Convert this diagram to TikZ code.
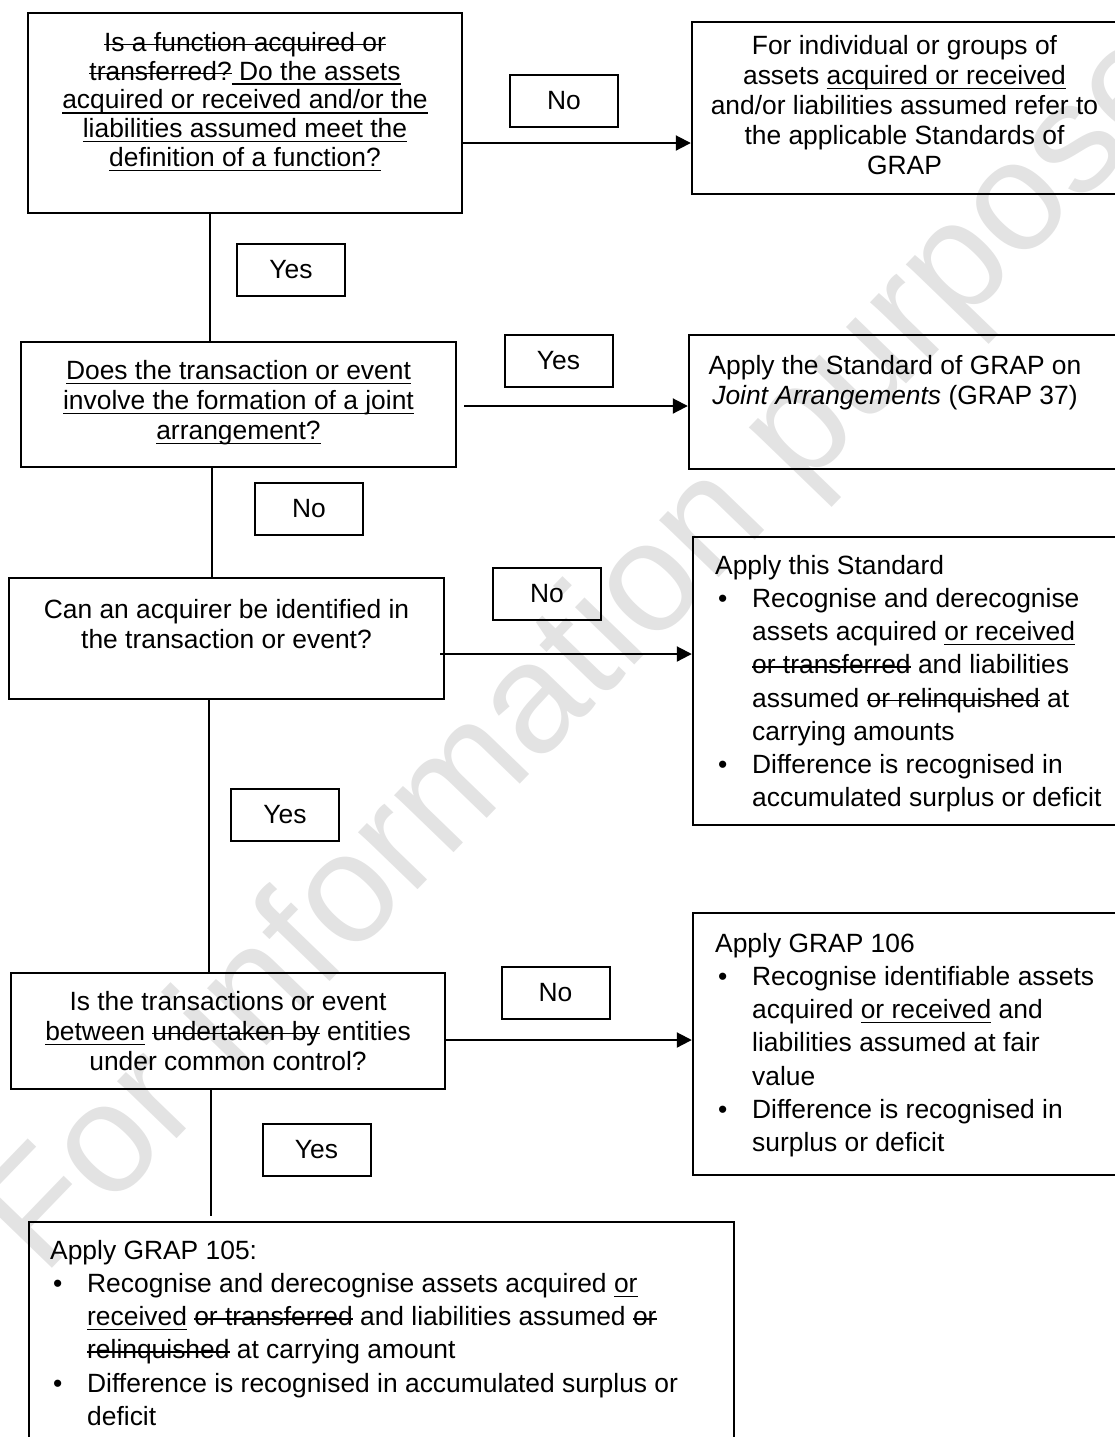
\documentclass[tikz,border=0pt]{standalone}
\usepackage{fontspec}
\setmainfont{Liberation Sans}
\usepackage{tikz}
\usetikzlibrary{positioning,arrows.meta,calc}
\newsavebox{\markBox}
\tikzset{QuestionBox/.style={%
    shape=rectangle,%
    draw=black,%
    line width=1.2pt,%
    inner sep=0pt,%
}}
\tikzset{OutcomeBox/.style={%
    shape=rectangle,%
    draw=black,%
    line width=1.2pt,%
    inner sep=0pt,%
}}
\tikzset{AnswerBox/.style={%
    shape=rectangle,%
    draw=black,%
    line width=1pt,%
    minimum width=54pt,%
    minimum height=26pt,%
    inner sep=0pt,%
    font=\fontsize{13.2}{15}\selectfont,%
}}
\tikzset{BoxText/.style={%
    inner sep=0pt,%
    align=center,%
    font=\fontsize{13.2}{15}\selectfont,%
}}
\tikzset{ListText/.style={%
    inner sep=0pt,%
    align=left,%
    font=\fontsize{13.2}{16.6}\selectfont,%
}}
\tikzset{FlowLine/.style={%
    -,%
    line width=0.6pt,%
}}
\tikzset{FlowArrow/.style={%
    -{Triangle[length=7.5pt,width=7.5pt]},%
    line width=1pt,%
}}
\tikzset{Watermark/.style={%
    inner sep=0pt,%
    anchor=base west,%
    rotate=46,%
    text=black!11,%
    font=\fontsize{78}{80}\selectfont,%
}}
\NewDocumentCommand{\newText}{m}{%
    \sbox{\markBox}{#1}%
    \rlap{\rule[-2.3pt]{\wd\markBox}{0.7pt}}\usebox{\markBox}%
}
\NewDocumentCommand{\oldText}{m}{%
    \sbox{\markBox}{#1}%
    \rlap{\rule[3.1pt]{\wd\markBox}{0.7pt}}\usebox{\markBox}%
}
\NewDocumentCommand{\bulletItem}{}{\makebox[18.5pt][l]{\hspace{1.5pt}\textbullet}}
\NewDocumentCommand{\itemIndent}{}{\hspace*{18.5pt}}

\begin{document}
\begin{tikzpicture}[x=0.5pt, y=-0.5pt]
    \useasboundingbox (0,0) rectangle (1115,1437);
    \node[Watermark] (wm) at (43,1278) {For information purposes};

    % questions on the left
    \node[QuestionBox, minimum width=217pt, minimum height=100pt] (q1) at (245,113) {};
    \node[QuestionBox, minimum width=217.5pt, minimum height=62.5pt] (q2) at (238.5,404.5) {};
    \node[QuestionBox, minimum width=217.5pt, minimum height=60.5pt] (q3) at (226.5,638.5) {};
    \node[QuestionBox, minimum width=217pt, minimum height=58pt] (q4) at (228,1031) {};

    % outcomes
    \node[OutcomeBox, minimum width=212.5pt, minimum height=86pt] (r1) at (904.5,108) {};
    \node[OutcomeBox, minimum width=214pt, minimum height=67pt] (r2) at (903,402) {};
    \node[OutcomeBox, minimum width=212pt, minimum height=144pt] (r3) at (905,681) {};
    \node[OutcomeBox, minimum width=212pt, minimum height=131pt] (r4) at (905,1044) {};
    \node[OutcomeBox, minimum width=352.5pt, minimum height=111.5pt] (r5) at (381.5,1333.5) {};

    \node[BoxText, below=10pt of q1.north, font=\fontsize{13.2}{14.4}\selectfont] (q1t) {%
        \oldText{Is a function acquired or}\\
        \oldText{transferred?}\newText{ Do the assets}\\
        \newText{acquired or received and/or the}\\
        \newText{liabilities assumed meet the}\\
        \newText{definition of a function?}};
    \node[BoxText, below=9.5pt of q2.north] (q2t) {%
        \newText{Does the transaction or event}\\
        \newText{involve the formation of a joint}\\
        \newText{arrangement?}};
    \node[BoxText, below=11pt of q3.north] (q3t) {%
        Can an acquirer be identified in\\
        the transaction or event?};
    \node[BoxText, below=9.5pt of q4.north] (q4t) {%
        Is the transactions or event\\
        \newText{between} \oldText{undertaken by} entities\\
        under common control?};

    \node[BoxText, below=7pt of r1.north] (r1t) {%
        For individual or groups of\\
        assets \newText{acquired or received}\\
        and/or liabilities assumed refer to\\
        the applicable Standards of\\
        GRAP};
    \node[BoxText, below=10.5pt of r2.north, xshift=-4pt] (r2t) {%
        Apply the Standard of GRAP on\\
        \textit{Joint Arrangements} (GRAP 37)};
    \node[ListText, below right=9.5pt and 11.5pt of r3.north west] (r3t) {%
        Apply this Standard\\
        \bulletItem Recognise and derecognise\\
        \itemIndent assets acquired \newText{or received}\\
        \itemIndent\oldText{or transferred} and liabilities\\
        \itemIndent assumed \oldText{or relinquished} at\\
        \itemIndent carrying amounts\\
        \bulletItem Difference is recognised in\\
        \itemIndent accumulated surplus or deficit};
    \node[ListText, below right=10.5pt and 11.5pt of r4.north west] (r4t) {%
        Apply GRAP 106\\
        \bulletItem Recognise identifiable assets\\
        \itemIndent acquired \newText{or received} and\\
        \itemIndent liabilities assumed at fair\\
        \itemIndent value\\
        \bulletItem Difference is recognised in\\
        \itemIndent surplus or deficit};
    \node[ListText, below right=9.5pt and 11pt of r5.north west] (r5t) {%
        Apply GRAP 105:\\
        \bulletItem Recognise and derecognise assets acquired \newText{or}\\
        \itemIndent\newText{received} \oldText{or transferred} and liabilities assumed \oldText{or}\\
        \itemIndent\oldText{relinquished} at carrying amount\\
        \bulletItem Difference is recognised in accumulated surplus or\\
        \itemIndent deficit};

    % yes / no labels
    \node[AnswerBox] (no1) at (564,101) {No};
    \node[AnswerBox] (yes1) at (291,270) {Yes};
    \node[AnswerBox] (yes2) at (558.5,361) {Yes};
    \node[AnswerBox] (no2) at (309,509) {No};
    \node[AnswerBox] (no3) at (547,594) {No};
    \node[AnswerBox] (yes3) at (285,815) {Yes};
    \node[AnswerBox] (no4) at (555.5,992.5) {No};
    \node[AnswerBox] (yes4) at (316.5,1150) {Yes};

    \draw[FlowLine] (q1.south -| 210,0) -- (q2.north -| 210,0);
    \draw[FlowLine] (q2.south -| 212,0) -- (q3.north -| 212,0);
    \draw[FlowLine] (q3.south -| 209,0) -- (q4.north -| 209,0);
    \draw[FlowLine] (q4.south -| 211,0) -- ($(r5.north -| 211,0)+(0,-5)$);

    \draw[FlowArrow] (q1.east |- 0,143) -- (r1.west |- 0,143);
    \draw[FlowArrow] ($(q2.east |- 0,406)+(7,0)$) -- (r2.west |- 0,406);
    \draw[FlowArrow] ($(q3.east |- 0,654)+(-5,0)$) -- (r3.west |- 0,654);
    \draw[FlowArrow] (q4.east |- 0,1040) -- (r4.west |- 0,1040);
\end{tikzpicture}
\end{document}
